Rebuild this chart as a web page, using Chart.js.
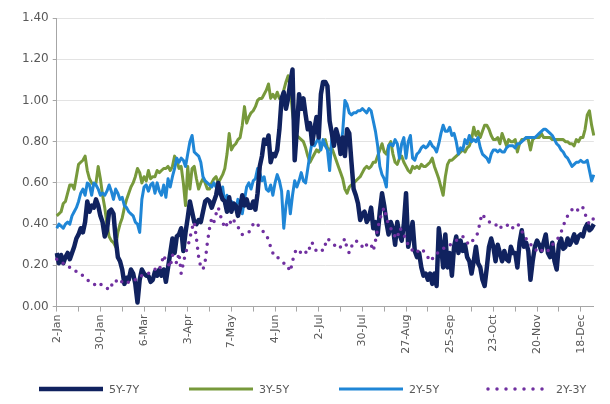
<!DOCTYPE html>
<html>
<head>
<meta charset="utf-8">
<script src="https://cdn.jsdelivr.net/npm/chart.js@4.4.1/dist/chart.umd.min.js"></script>
<style>
  html, body { margin: 0; padding: 0; background: #fff; }
  .wrap { position: relative; width: 610px; height: 404px; }
  .legend { position: absolute; left: 0; top: 381px; width: 610px; height: 16px;
            font: 11px 'DejaVu Sans', sans-serif; color: #595959; }
  .legend-item { position: absolute; top: 0; height: 16px; display: flex; align-items: center; }
  .legend-item svg { margin-right: 6px; }
</style>
</head>
<body>
<div class="wrap">
  <canvas id="spreads" width="610" height="404"></canvas>
  <div class="legend" id="legend"></div>
</div>
<script>
// spreads between tenors, one value per trading day
const s57 = [
  0.26, 0.21, 0.25, 0.21, 0.24, 0.26, 0.23, 0.26, 0.29, 0.33,
  0.35, 0.38, 0.36, 0.41, 0.51, 0.46, 0.49, 0.48, 0.52, 0.49,
  0.44, 0.41, 0.34, 0.37, 0.46, 0.47, 0.45, 0.33, 0.24, 0.22,
  0.18, 0.11, 0.14, 0.13, 0.18, 0.16, 0.11, 0.02, 0.13, 0.18,
  0.16, 0.15, 0.15, 0.12, 0.13, 0.17, 0.15, 0.18, 0.15, 0.18,
  0.12, 0.19, 0.26, 0.33, 0.26, 0.34, 0.35, 0.38, 0.27, 0.36,
  0.43, 0.51, 0.46, 0.41, 0.40, 0.42, 0.41, 0.46, 0.51, 0.52,
  0.51, 0.48, 0.51, 0.54, 0.60, 0.55, 0.52, 0.51, 0.46, 0.53,
  0.46, 0.50, 0.49, 0.44, 0.48, 0.54, 0.49, 0.52, 0.48, 0.48,
  0.51, 0.47, 0.55, 0.68, 0.73, 0.81, 0.79, 0.83, 0.70, 0.74,
  0.73, 0.76, 0.86, 1.01, 1.04, 0.96, 1.01, 1.09, 1.15, 0.71,
  0.86, 1.03, 0.96, 1.01, 0.93, 0.86, 0.89, 0.79, 0.86, 0.92,
  0.82, 1.03, 1.09, 1.09, 1.07, 0.90, 0.84, 0.78, 0.86, 0.82,
  0.74, 0.82, 0.73, 0.86, 0.84, 0.70, 0.57, 0.54, 0.50, 0.42,
  0.45, 0.46, 0.41, 0.43, 0.48, 0.38, 0.41, 0.35, 0.46, 0.55,
  0.49, 0.41, 0.35, 0.41, 0.38, 0.30, 0.41, 0.35, 0.32, 0.40,
  0.55, 0.29, 0.35, 0.41, 0.27, 0.24, 0.26, 0.19, 0.15, 0.16,
  0.13, 0.16, 0.11, 0.16, 0.10, 0.38, 0.30, 0.19, 0.35, 0.19,
  0.26, 0.15, 0.29, 0.34, 0.26, 0.32, 0.27, 0.30, 0.24, 0.22,
  0.16, 0.22, 0.29, 0.21, 0.19, 0.13, 0.10, 0.19, 0.29, 0.33,
  0.29, 0.22, 0.30, 0.26, 0.22, 0.27, 0.23, 0.22, 0.29, 0.26,
  0.26, 0.19, 0.31, 0.37, 0.29, 0.31, 0.27, 0.13, 0.22, 0.29,
  0.32, 0.30, 0.27, 0.31, 0.35, 0.26, 0.24, 0.31, 0.22, 0.18,
  0.30, 0.33, 0.28, 0.29, 0.33, 0.30, 0.32, 0.35, 0.31, 0.34,
  0.35, 0.34, 0.38, 0.40, 0.37, 0.38, 0.40
];
const s35 = [
  0.44, 0.45, 0.46, 0.50, 0.51, 0.55, 0.59, 0.59, 0.57, 0.63,
  0.69, 0.70, 0.71, 0.73, 0.66, 0.62, 0.60, 0.59, 0.60, 0.68,
  0.62, 0.54, 0.48, 0.40, 0.34, 0.32, 0.31, 0.29, 0.36, 0.40,
  0.43, 0.48, 0.52, 0.55, 0.58, 0.60, 0.63, 0.67, 0.65, 0.60,
  0.63, 0.61, 0.66, 0.62, 0.63, 0.63, 0.66, 0.65, 0.66, 0.67,
  0.67, 0.68, 0.66, 0.68, 0.73, 0.71, 0.67, 0.68, 0.60, 0.49,
  0.68, 0.57, 0.67, 0.68, 0.62, 0.57, 0.60, 0.62, 0.60, 0.57,
  0.57, 0.60, 0.62, 0.63, 0.60, 0.62, 0.64, 0.67, 0.74, 0.84,
  0.76, 0.78, 0.79, 0.81, 0.82, 0.88, 0.97, 0.89, 0.92, 0.94,
  0.95, 0.97, 1.00, 1.01, 1.01, 1.03, 1.05, 1.08, 1.01, 1.03,
  1.01, 1.04, 1.01, 1.01, 1.05, 1.09, 1.12, 1.06, 0.94, 0.86,
  0.83, 0.82, 0.81, 0.80, 0.77, 0.73, 0.70, 0.72, 0.74, 0.76,
  0.75, 0.77, 0.79, 0.81, 0.77, 0.76, 0.77, 0.74, 0.71, 0.68,
  0.65, 0.62, 0.57, 0.55, 0.58, 0.59, 0.60, 0.61, 0.62, 0.63,
  0.65, 0.67, 0.68, 0.67, 0.68, 0.70, 0.70, 0.73, 0.76, 0.79,
  0.75, 0.74, 0.78, 0.80, 0.74, 0.70, 0.69, 0.72, 0.73, 0.70,
  0.68, 0.66, 0.65, 0.68, 0.67, 0.68, 0.67, 0.69, 0.68, 0.68,
  0.69, 0.70, 0.72, 0.68, 0.65, 0.62, 0.58, 0.54, 0.63, 0.69,
  0.71, 0.71, 0.72, 0.73, 0.74, 0.75, 0.76, 0.75, 0.77, 0.78,
  0.81, 0.87, 0.83, 0.85, 0.82, 0.85, 0.88, 0.88, 0.86, 0.83,
  0.81, 0.81, 0.82, 0.79, 0.84, 0.81, 0.78, 0.81, 0.80, 0.80,
  0.81, 0.75, 0.79, 0.81, 0.81, 0.82, 0.81, 0.76, 0.81, 0.82,
  0.82, 0.82, 0.84, 0.82, 0.82, 0.82, 0.82, 0.81, 0.81, 0.81,
  0.81, 0.81, 0.81, 0.80, 0.80, 0.79, 0.79, 0.78, 0.81, 0.80,
  0.82, 0.82, 0.86, 0.93, 0.95, 0.88, 0.83
];
const s25 = [
  0.38, 0.40, 0.39, 0.38, 0.40, 0.41, 0.40, 0.44, 0.46, 0.48,
  0.51, 0.55, 0.57, 0.54, 0.60, 0.59, 0.54, 0.60, 0.59, 0.57,
  0.54, 0.55, 0.54, 0.56, 0.59, 0.56, 0.52, 0.57, 0.55, 0.52,
  0.53, 0.49, 0.48, 0.46, 0.45, 0.44, 0.41, 0.40, 0.36, 0.52,
  0.58, 0.59, 0.56, 0.59, 0.60, 0.55, 0.60, 0.56, 0.54, 0.59,
  0.53, 0.62, 0.58, 0.63, 0.67, 0.72, 0.70, 0.72, 0.71, 0.68,
  0.74, 0.80, 0.83, 0.75, 0.74, 0.73, 0.70, 0.63, 0.61, 0.60,
  0.59, 0.58, 0.60, 0.58, 0.59, 0.55, 0.58, 0.50, 0.54, 0.49,
  0.51, 0.49, 0.47, 0.52, 0.50, 0.45, 0.52, 0.58, 0.60, 0.57,
  0.61, 0.62, 0.67, 0.65, 0.61, 0.63, 0.57, 0.56, 0.59, 0.54,
  0.60, 0.64, 0.61, 0.56, 0.38, 0.49, 0.56, 0.45, 0.54, 0.61,
  0.58, 0.61, 0.65, 0.61, 0.60, 0.67, 0.74, 0.80, 0.78, 0.80,
  0.82, 0.76, 0.81, 0.78, 0.76, 0.66, 0.82, 0.79, 0.85, 0.81,
  0.77, 0.85, 1.00, 0.98, 0.94, 0.93, 0.94, 0.94, 0.95, 0.95,
  0.96, 0.95, 0.94, 0.96, 0.95, 0.90, 0.85, 0.78, 0.68, 0.64,
  0.62, 0.58, 0.78, 0.79, 0.78, 0.81, 0.79, 0.72, 0.79, 0.82,
  0.72, 0.80, 0.83, 0.72, 0.71, 0.74, 0.75, 0.77, 0.78, 0.77,
  0.78, 0.80, 0.78, 0.77, 0.75, 0.79, 0.84, 0.88, 0.85, 0.85,
  0.87, 0.83, 0.84, 0.80, 0.74, 0.77, 0.76, 0.81, 0.79, 0.83,
  0.80, 0.81, 0.80, 0.82, 0.77, 0.74, 0.73, 0.72, 0.70, 0.74,
  0.76, 0.76, 0.75, 0.76, 0.75, 0.75, 0.77, 0.78, 0.78, 0.78,
  0.77, 0.79, 0.79, 0.80, 0.81, 0.82, 0.82, 0.82, 0.82, 0.82,
  0.83, 0.84, 0.85, 0.86, 0.86, 0.85, 0.84, 0.83, 0.81, 0.79,
  0.78, 0.76, 0.75, 0.73, 0.72, 0.70, 0.68, 0.69, 0.70, 0.70,
  0.71, 0.70, 0.70, 0.71, 0.66, 0.61, 0.64
];
const s23 = [
  0.23, 0.22, 0.22, 0.21, 0.21, 0.20, 0.19, 0.18, 0.18, 0.17,
  0.17, 0.16, 0.15, 0.14, 0.13, 0.12, 0.11, 0.11, 0.10, 0.10,
  0.11, 0.10, 0.10, 0.09, 0.08, 0.10, 0.12, 0.13, 0.11, 0.12,
  0.12, 0.11, 0.11, 0.12, 0.13, 0.13, 0.13, 0.14, 0.15, 0.15,
  0.15, 0.16, 0.16, 0.17, 0.17, 0.18, 0.19, 0.18, 0.21, 0.25,
  0.22, 0.21, 0.19, 0.25, 0.23, 0.21, 0.26, 0.16, 0.21, 0.26,
  0.29, 0.33, 0.38, 0.41, 0.33, 0.24, 0.19, 0.18, 0.22, 0.31,
  0.38, 0.43, 0.41, 0.45, 0.48, 0.44, 0.41, 0.38, 0.40, 0.42,
  0.40, 0.42, 0.40, 0.39, 0.36, 0.35, 0.35, 0.36, 0.36, 0.38,
  0.40, 0.41, 0.40, 0.38, 0.37, 0.36, 0.35, 0.32, 0.29, 0.26,
  0.24, 0.24, 0.23, 0.22, 0.21, 0.21, 0.19, 0.17, 0.22, 0.26,
  0.28, 0.27, 0.26, 0.27, 0.26, 0.29, 0.28, 0.31, 0.28, 0.27,
  0.27, 0.28, 0.27, 0.30, 0.33, 0.32, 0.31, 0.30, 0.29, 0.28,
  0.29, 0.31, 0.33, 0.28, 0.26, 0.29, 0.31, 0.32, 0.31, 0.31,
  0.29, 0.28, 0.30, 0.31, 0.30, 0.27, 0.32, 0.38, 0.42, 0.46,
  0.48, 0.43, 0.40, 0.38, 0.36, 0.34, 0.33, 0.38, 0.37, 0.35,
  0.32, 0.30, 0.29, 0.27, 0.26, 0.26, 0.28, 0.28, 0.27, 0.26,
  0.24, 0.22, 0.23, 0.25, 0.26, 0.26, 0.27, 0.28, 0.29, 0.30,
  0.30, 0.30, 0.31, 0.32, 0.33, 0.34, 0.34, 0.33, 0.31, 0.30,
  0.31, 0.33, 0.34, 0.36, 0.42, 0.45, 0.43, 0.42, 0.41, 0.41,
  0.41, 0.40, 0.38, 0.39, 0.38, 0.38, 0.39, 0.40, 0.40, 0.38,
  0.39, 0.40, 0.39, 0.37, 0.34, 0.33, 0.31, 0.30, 0.30, 0.28,
  0.27, 0.26, 0.27, 0.28, 0.28, 0.27, 0.29, 0.30, 0.31, 0.32,
  0.34, 0.36, 0.39, 0.42, 0.44, 0.46, 0.47, 0.48, 0.48, 0.46,
  0.47, 0.48, 0.45, 0.42, 0.40, 0.41, 0.43
];

// axis labels: one date every 20 trading days
const tickLabels = ['2-Jan', '30-Jan', '6-Mar', '3-Apr', '7-May', '4-Jun', '2-Jul',
                    '30-Jul', '27-Aug', '25-Sep', '23-Oct', '20-Nov', '18-Dec'];
const labelEvery = 20;
const tickEvery = 10;
const days = s57.map((_, i) => i);

const grey = '#595959';
const axisGrey = '#a6a6a6';
const fontFamily = "'DejaVu Sans', sans-serif";

const series = [
  { label: '5Y-7Y', data: s57, color: '#10225f', width: 4.5, order: 1 },
  { label: '3Y-5Y', data: s35, color: '#77993b', width: 3, order: 3 },
  { label: '2Y-5Y', data: s25, color: '#1f86d6', width: 3, order: 2 },
  { label: '2Y-3Y', data: s23, color: '#7030a0', width: 3.5, order: 0, dots: true }
];

const datasets = series.map(s => ({
  label: s.label,
  data: s.data,
  borderColor: s.color,
  backgroundColor: s.color,
  borderWidth: s.width,
  borderDash: s.dots ? [0, 8] : [],
  borderCapStyle: s.dots ? 'round' : 'butt',
  borderJoinStyle: 'round',
  pointRadius: 0,
  tension: 0,
  order: s.order
}));

new Chart(document.getElementById('spreads'), {
  type: 'line',
  data: { labels: days, datasets },
  options: {
    responsive: false,
    animation: false,
    layout: { padding: { left: 18, right: 3.5, top: 18, bottom: 47 } },
    plugins: { legend: { display: false }, tooltip: { enabled: false } },
    scales: {
      x: {
        offset: false,
        grid: {
          drawOnChartArea: false,
          tickLength: 5,
          tickColor: ctx => ctx.index % tickEvery === 0 ? axisGrey : 'rgba(0,0,0,0)'
        },
        border: { color: axisGrey },
        ticks: {
          autoSkip: false,
          minRotation: 90,
          maxRotation: 90,
          padding: 3,
          color: grey,
          font: { family: fontFamily, size: 11 },
          callback: (v, i) => i % labelEvery === 0 ? tickLabels[i / labelEvery] : ''
        }
      },
      y: {
        min: 0,
        max: 1.4,
        grid: { color: '#e3e3e3', tickLength: 4, tickColor: axisGrey },
        border: { color: axisGrey },
        ticks: {
          stepSize: 0.2,
          padding: 4,
          color: grey,
          font: { family: fontFamily, size: 12 },
          callback: v => v.toFixed(2)
        }
      }
    }
  }
});

// legend row under the axis
const legendStarts = [39, 189, 339, 486];
const legend = document.getElementById('legend');
series.forEach((s, i) => {
  const item = document.createElement('div');
  item.className = 'legend-item';
  item.style.left = legendStarts[i] + 'px';
  const stroke = s.dots
    ? `stroke-dasharray="0 9" stroke-linecap="round"`
    : `stroke-linecap="butt"`;
  item.innerHTML =
    `<svg width="64" height="8"><line x1="${s.dots ? 2 : 0}" y1="4" x2="64" y2="4" stroke="${s.color}" stroke-width="${s.width}" ${stroke}/></svg>` +
    `<span>${s.label}</span>`;
  legend.appendChild(item);
});
</script>
</body>
</html>
